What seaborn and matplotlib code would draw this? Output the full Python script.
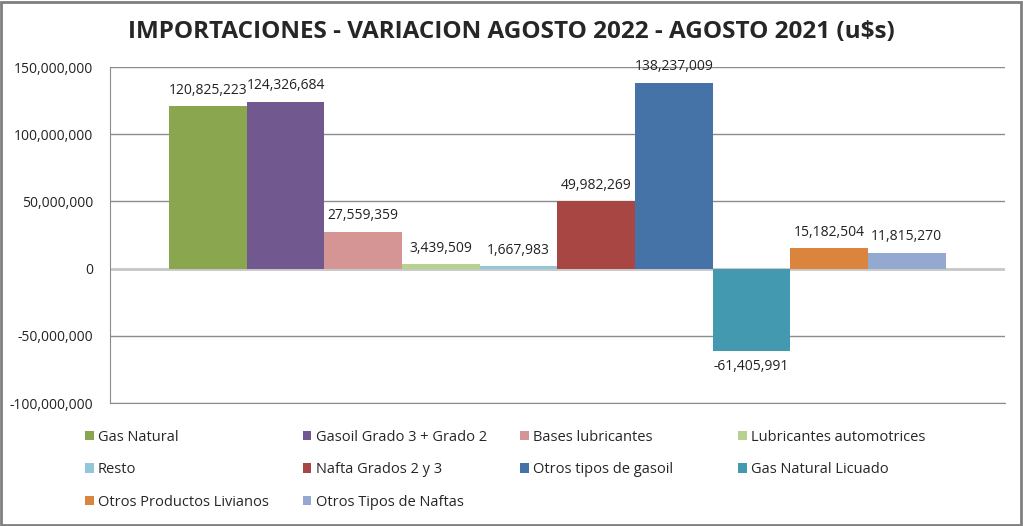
import matplotlib
matplotlib.use("Agg")
import matplotlib.pyplot as plt
import seaborn as sns
import pandas as pd
from matplotlib.patches import Patch
from matplotlib.ticker import FuncFormatter

# ---------------------------
# DATA
# ---------------------------
series = ["Gas Natural", "Gasoil Grado 3 + Grado 2", "Bases lubricantes",
          "Lubricantes automotrices", "Resto", "Nafta Grados 2 y 3",
          "Otros tipos de gasoil", "Gas Natural Licuado",
          "Otros Productos Livianos", "Otros Tipos de Naftas"]
values = [120825223, 124326684, 27559359, 3439509, 1667983, 49982269,
          138237009, -61405991, 15182504, 11815270]
colors = ["#8AA64E", "#71588F", "#D69595", "#B6D190", "#93C6D8",
          "#A84643", "#4572A7", "#4299B0", "#DB843D", "#93A9CF"]
yticks = [-100000000, -50000000, 0, 50000000, 100000000, 150000000]

df = pd.DataFrame({"cat": ["Agosto"] * len(series), "serie": series, "valor": values})

# ---------------------------
# PLOT
# ---------------------------
sns.set_style("white")
plt.rcParams["font.family"] = ["Open Sans", "DejaVu Sans"]

fig = plt.figure(figsize=(10.23, 5.26), dpi=100)
ax = fig.add_axes([0.1075, 0.2338, 0.8745, 0.6388])

sns.barplot(data=df, x="cat", y="valor", hue="serie", hue_order=series,
            palette=colors, width=0.868, saturation=1, ax=ax, legend=False,
            edgecolor="none", zorder=2)

for cont in ax.containers:
    ax.bar_label(cont, labels=[f"{v:,.0f}" for v in cont.datavalues],
                 padding=6, fontsize=10, color="#222222")

ax.set_ylim(-100000000, 150000000)
ax.set_yticks(yticks)
ax.yaxis.set_major_formatter(FuncFormatter(lambda v, p: f"{v:,.0f}"))
ax.tick_params(axis="y", labelsize=10, length=0, pad=12, colors="#222222")
ax.set_xticks([])
ax.set_xlabel("")
ax.set_ylabel("")
ax.set_xlim(-0.5, 0.5)
ax.grid(axis="y", color="#8C8C8C", linewidth=1)
ax.set_axisbelow(True)
ax.axhline(0, color="#C8C8C8", linewidth=2, zorder=1)
for s in ["top", "right"]:
    ax.spines[s].set_visible(False)
ax.spines["left"].set_color("#8C8C8C")
ax.spines["bottom"].set_color("#8C8C8C")

fig.text(0.5, 0.94, "IMPORTACIONES - VARIACION AGOSTO 2022 - AGOSTO 2021 (u$s)",
         ha="center", va="center", fontsize=17.5, fontweight="bold")

# legend: 4 fixed-width columns, filled row by row
for j in range(4):
    idx = list(range(j, len(series), 4))
    handles = [Patch(facecolor=colors[i], edgecolor="none") for i in idx]
    leg = fig.legend(handles, [series[i] for i in idx], loc="upper left",
                     bbox_to_anchor=(0.083 + j * 0.2128, 0.183),
                     ncol=1, frameon=False, fontsize=10.5, handlelength=0.6,
                     handleheight=0.6, handletextpad=0.3, labelspacing=1.2,
                     borderpad=0, borderaxespad=0)

fig.patches.append(plt.Rectangle((0.001, 0.002), 0.997, 0.995, transform=fig.transFigure,
                                 fill=False, edgecolor="#7F7F7F", linewidth=2))

plt.savefig("out.png", dpi=100)
